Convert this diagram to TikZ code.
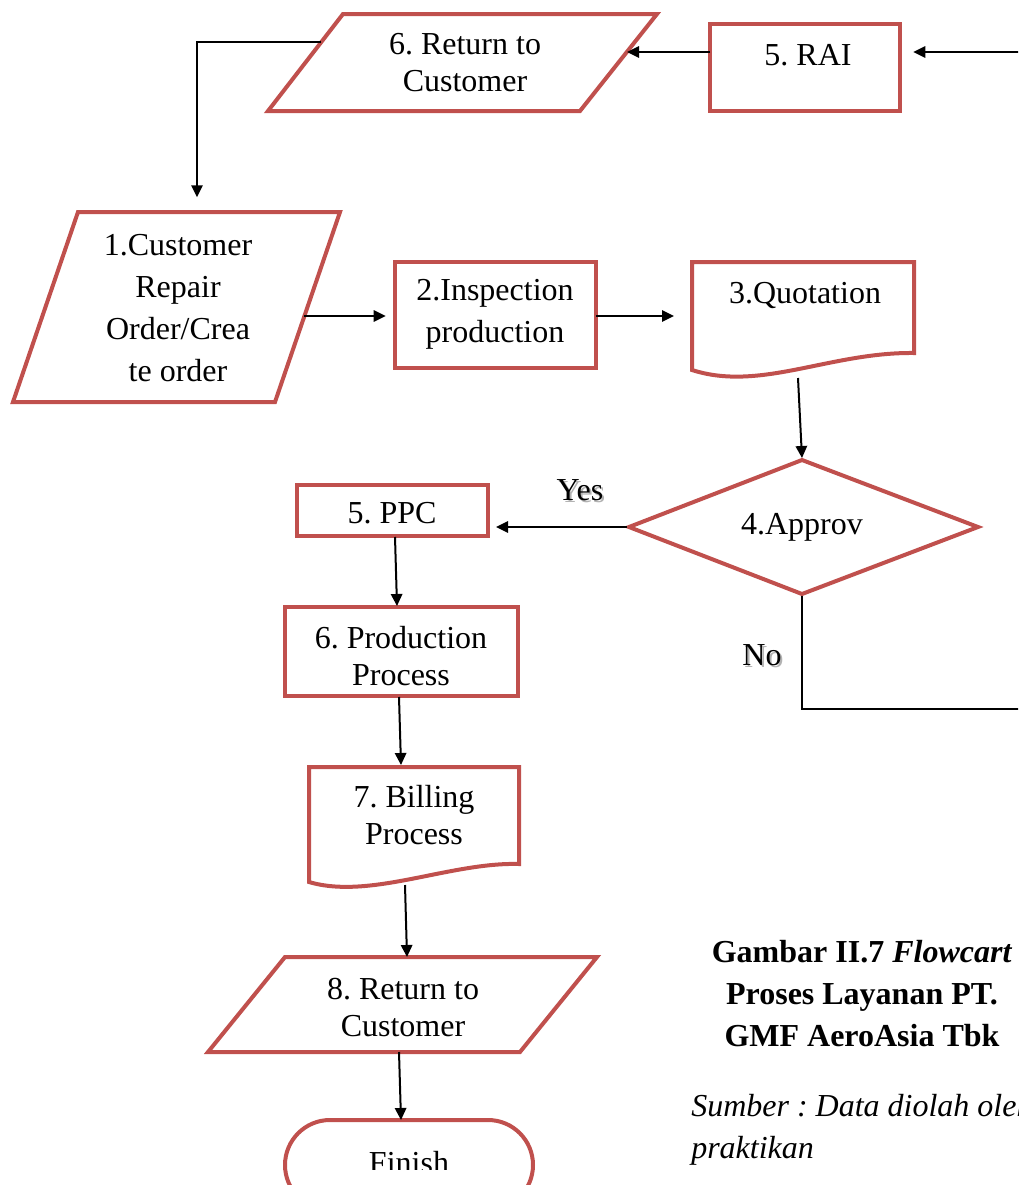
\documentclass[tikz,border=0pt]{standalone}
\usepackage{fontspec}
\setmainfont{Liberation Serif}
\usetikzlibrary{arrows.meta}
\definecolor{boxred}{RGB}{192,80,77}
\begin{document}
\frenchspacing
\begin{tikzpicture}[x=0.75pt,y=-0.75pt,
  outline/.style={draw=boxred,line width=3pt,line join=miter},
  rbox/.style={outline,rectangle,inner sep=0pt,outer sep=0pt},
  lbl/.style={font=\fontsize{24}{27.75}\selectfont,align=center,inner sep=0pt},
  lblwide/.style={font=\fontsize{24}{31.5}\selectfont,align=center,inner sep=0pt},
  conn/.style={line width=1.5pt,-{Triangle[length=9pt,width=8.5pt]}},
  plainline/.style={line width=1.5pt},
  shadowtxt/.style={lbl,text=black!30}
]
\useasboundingbox (0,0) rectangle (1018,1185);
\clip (0,0) rectangle (1018,1185);

% ---------- shapes ----------
% 6. Return to Customer (top parallelogram)
\draw[outline] (343,14) -- (657,14) -- (580,111) -- (268,111) -- cycle;
\node[lbl] (ret6) at (465,63) {6. Return to\\Customer};
\coordinate (ret6L) at (321,42);
\coordinate (ret6R) at (627,52);

% 5. RAI
\node[rbox,minimum width={190*0.75pt},minimum height={87*0.75pt}] (rai) at (805,67.5) {};
\node[lbl] (raitxt) at (808,55) {5. RAI};

% 1. Customer Repair Order
\draw[outline] (78,212) -- (340,212) -- (275,402) -- (13,402) -- cycle;
\node[lblwide] (cust) at (178,308) {1.Customer\\Repair\\Order/Crea\\te order};
\coordinate (custT) at (197,212);
\coordinate (custR) at (304,316);

% 2. Inspection production
\node[rbox,minimum width={201*0.75pt},minimum height={106*0.75pt}] (insp) at (495.5,315) {};
\node[lblwide] (insptxt) at (495,314) {2.Inspection\\production};

% 3. Quotation (document)
\draw[outline] (692,262) -- (914,262) -- (914,353)
  .. controls (830,352) and (760,392) .. (692,370) -- cycle;
\node[lbl] (quot) at (805,295) {3.Quotation};
\coordinate (quotL) at (690,316);
\coordinate (quotB) at (798,378);

% 4. Approv (decision)
\draw[outline] (802,460) -- (978,527) -- (802,594) -- (629,527) -- cycle;
\node[lbl] (appr) at (802,527) {4.Approv};
\coordinate (apprT) at (802,458);
\coordinate (apprL) at (627,527);
\coordinate (apprB) at (802,596);

% 5. PPC
\node[rbox,minimum width={191*0.75pt},minimum height={51*0.75pt}] (ppc) at (392.5,510.5) {};
\node[lbl] (ppctxt) at (392,513) {5. PPC};
\coordinate (ppcB) at (395,537);

% 6. Production Process
\node[rbox,minimum width={233*0.75pt},minimum height={89*0.75pt}] (prod) at (401.5,651.5) {};
\node[lbl] (prodtxt) at (401,656) {6. Production\\Process};
\coordinate (prodT) at (397,606);
\coordinate (prodB) at (399,697);

% 7. Billing Process (document)
\draw[outline] (309,767) -- (519,767) -- (519,864)
  .. controls (450,862) and (370,900) .. (309,882) -- cycle;
\node[lbl] (bill) at (414,815) {7. Billing\\Process};
\coordinate (billT) at (401,765);
\coordinate (billB) at (405,885);

% 8. Return to Customer
\draw[outline] (285,957) -- (597,957) -- (520,1052) -- (208,1052) -- cycle;
\node[lbl] (ret8) at (403,1008) {8. Return to\\Customer};
\coordinate (ret8T) at (407,957);
\coordinate (ret8B) at (399,1052);

% Finish (terminator)
\draw[outline,rounded corners=33.75pt] (285,1120) rectangle (533,1210);
\begin{scope}
\clip (285,1120) rectangle (533,1169);
\node[lbl] (fin) at (409,1163) {Finish};
\end{scope}
\coordinate (finT) at (401,1120);

% ---------- connectors ----------
\coordinate (farR) at (1040,52);
\draw[conn,shorten >=10pt] (farR) -- (rai.east |- farR);
\draw[conn] (rai.west |- ret6R) -- (ret6R);
\draw[conn,shorten >=11pt] (ret6L) -- (197,42) -- (custT);
\draw[conn,shorten >=7pt] (custR) -- (insp.west |- custR);
\draw[conn,shorten >=12pt] (insp.east |- quotL) -- (quotL);
\draw[conn] (quotB) -- (apprT);
\draw[conn,shorten >=6pt] (apprL) -- (ppc.east |- apprL);
\draw[conn] (ppcB) -- (prodT);
\draw[conn] (prodB) -- (billT);
\draw[conn] (billB) -- (ret8T);
\draw[conn] (ret8B) -- (finT);
\coordinate (noR) at (1040,709);
\draw[plainline] (apprB) -- (802,709) -- (noR);

% ---------- labels ----------
\node[shadowtxt] at (582,492) {Yes};
\node[lbl] (yes) at (580,490) {Yes};
\node[shadowtxt] at (764,657) {No};
\node[lbl] (no) at (762,655) {No};

% ---------- caption ----------
\node[lblwide,font=\fontsize{24}{31.5}\selectfont\bfseries] (cap) at (862,994)
  {Gambar II.7 \textit{Flowcart}\\Proses Layanan PT.\\GMF AeroAsia Tbk};
\node[lblwide,font=\fontsize{24}{31.5}\selectfont\itshape,align=left,anchor=west] (src) at (691,1130)
  {Sumber : Data diolah oleh\\praktikan};
\end{tikzpicture}
\end{document}
